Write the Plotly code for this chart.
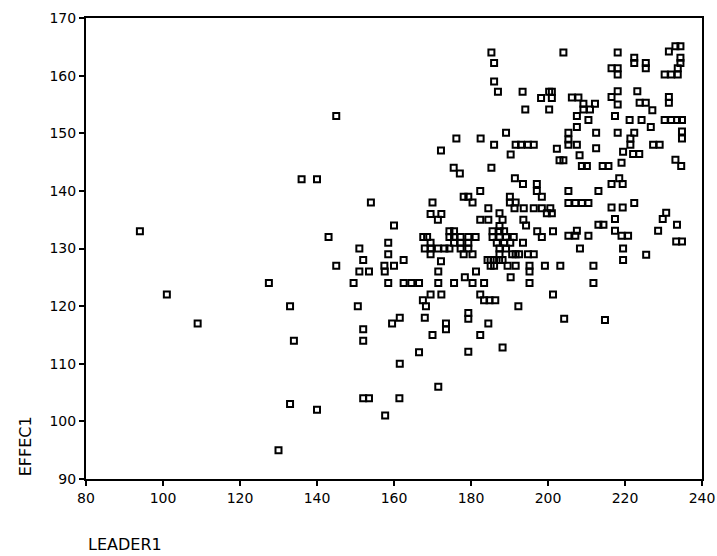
import plotly.graph_objects as go

# ---- data (LEADER1 on x, EFFEC1 on y) ----
leader1_a = [94, 101, 109, 127.5, 130, 133, 134, 133, 136, 140, 140, 143, 145, 145]
effec1_a = [133, 122, 117, 124, 95, 120, 114, 103, 142, 142, 102, 132, 127, 153]

leader1_b = [154, 160, 158.5, 151, 158.5, 152, 162.5, 157.5, 160, 151, 153.5, 157.6, 149.5, 158.5,
             162.5, 164.5, 166.5, 150.6, 161.5, 159.5, 152, 152, 166.5, 161.5, 152, 153.5, 161.4, 157.7]
effec1_b = [138, 134, 131, 130, 129, 128, 128, 127, 127, 126, 126, 126, 124, 124,
            124, 124, 124, 120, 118, 117, 116, 114, 112, 110, 104, 104, 104, 101]

leader1_c = [167.5, 168.3, 168, 170, 169.5, 172.3, 171.4, 167.6, 168.6, 169.5, 168, 169.5, 171.4,
             169.5, 171.5, 171.5, 169.5, 172.3, 170, 171.5]
effec1_c = [121, 120, 118, 138, 136, 136, 135, 132, 132, 131, 130, 130, 130,
            129, 126, 124, 122, 122, 115, 106]

leader1_d = [172.2, 175.5, 177.1, 185.3, 182.4, 178.1, 179.3, 180.4, 190.1, 190.1, 191.6, 191.4,
             193.5, 197.1, 197.1, 198.4]
effec1_d = [147, 144, 143, 144, 140, 139, 139, 138, 139, 138, 138, 142.2,
            141.2, 141.2, 140, 139]

leader1_e = [191.3, 193.7, 196.3, 198.4, 200.6, 199.7, 201, 184.5, 187.4, 182.4, 184.5, 188.2,
             193.6, 194.3, 187.4, 174.4, 175.6, 185.6, 187.4, 188.6, 197.2, 201.3]
effec1_e = [137, 137, 137, 137, 137, 136.1, 136.1, 137, 136.1, 135, 135, 135,
            135, 134, 133.9, 133, 133, 133, 133, 133, 133, 133]

leader1_f = [174.4, 175.6, 177.3, 179.3, 181.2, 185.6, 187.4, 189.1, 191.1, 198.4]
effec1_f = [132, 132, 132, 132, 132, 132, 132, 132, 132, 132]

leader1_g = [175.6, 177.3, 179.3, 186.7, 188.6, 190.2, 193.5]
effec1_g = [131, 131, 131, 131, 131, 131, 131]

leader1_h = [173.1, 174.4, 177.3, 179.3, 187.4, 189.1]
effec1_h = [130, 130, 130, 130, 130, 130]

leader1_i = [178.1, 180.4, 187.4, 190.7, 191.6, 192.5, 194.8, 196.3]
effec1_i = [129, 129, 129, 129, 129, 129, 129, 129]

leader1_j = [172.2, 184.3, 185.1, 186, 187.3, 185.1, 186, 188.2, 189.5, 191.6, 195.2, 195.2, 199.2]
effec1_j = [127.8, 128, 128, 128, 128, 127, 127, 128, 127, 127, 127, 126, 127]

leader1_k = [181.3, 178.4, 190.3, 175.6, 180.4, 183.4, 195.2, 182.4, 201.3, 183.4, 184.8, 186.3, 192.3]
effec1_k = [126, 125, 125, 124, 124, 124, 124, 122, 122, 121, 121, 121, 120]

leader1_l = [179.3, 179.3, 173.5, 173.5, 184.5, 204.2, 182.4, 179.3, 188.2]
effec1_l = [118.8, 117.8, 117, 116, 117, 117.8, 115, 112.1, 112.8]

leader1_m = [185.3, 186, 186, 187, 193.4, 204, 198.2, 200.3, 201, 201, 194.1, 200.3, 189.1, 176.2,
             182.5, 186, 191.6, 193, 194.8, 196.3, 190.3, 202.3]
effec1_m = [164, 162.2, 159, 157.2, 157.2, 164, 156.1, 157.2, 157.2, 156.1, 154.1, 154.1, 150.1, 149.1,
            149.1, 148, 148, 148, 148, 148, 146.3, 147.3]

leader1_n = [218.1, 222.4, 222.4, 225.4, 225.4, 231.4, 233.1, 234.4, 234.4, 234.4,
             216.5, 218.1, 218.1, 230.3, 232, 233.7, 233.7,
             218.1, 216.5, 218.1, 223.2, 225.4, 227.1, 223.8, 231.4, 231.4,
             206.2, 207.9, 209.2, 210.9, 212.2, 209.2,
             207.5, 210.5, 217.4, 221.2, 224.3, 226.7, 230.3, 232, 233.5, 234.8, 234.8, 234.8,
             207.5, 212.5, 218.1, 222.4, 221.4, 221.4, 227.3, 229,
             205.3, 205.3, 205.3, 207.5, 212.5, 208.2, 222.1, 223.7, 219.5,
             203, 204, 208.8, 210.1, 214.2, 215.7, 219.1, 233.1, 234.6]
effec1_n = [164, 163.1, 162.2, 162.2, 161.3, 164.2, 165.1, 165.1, 163.1, 162.2,
            161.3, 161.3, 160.2, 160.2, 160.2, 160.2, 161.3,
            157.3, 156.3, 155, 157.3, 155.3, 154, 155.3, 156.3, 155.3,
            156.2, 156.2, 155.1, 154.1, 155.1, 154.1,
            153, 152.3, 153, 152.3, 152.3, 151.1, 152.3, 152.3, 152.3, 152.3, 150.3, 149.1,
            151.1, 150.1, 150.1, 150.1, 149.1, 148, 148, 148,
            150.1, 148.9, 148, 148, 147.4, 146.2, 146.4, 146.4, 146.8,
            145.3, 145.3, 144.3, 144.3, 144.3, 144.3, 144.9, 145.4, 144.3]

leader1_o = [218.5, 216.5, 219.4, 205.3, 213.1, 205.3, 207.1, 208.8, 210.5, 216.5, 219.4, 222.4,
             213.1, 214.4, 217.4, 230.7, 229.8, 233.5, 205.3, 207.1, 207.5, 210.5, 217.4, 219.1,
             220.8, 228.6, 233.3, 234.8, 208.3, 219.5, 219.5, 225.5, 203.2, 211.8, 211.8, 214.8]
effec1_o = [142.2, 141.2, 141.2, 140, 140, 137.9, 137.9, 137.9, 137.9, 137.1, 137.1, 137.9,
            134.1, 134.1, 135.1, 136.2, 135.1, 134.1, 132.2, 132.2, 133.1, 132.2, 133.1, 132.2,
            132.2, 133.1, 131.2, 131.2, 130, 130, 128, 128.9, 127, 127, 124, 117.6]

x_ticks = [80, 100, 120, 140, 160, 180, 200, 220, 240]
y_ticks = [90, 100, 110, 120, 130, 140, 150, 160, 170]

leader1 = (leader1_a + leader1_b + leader1_c + leader1_d + leader1_e + leader1_f + leader1_g +
           leader1_h + leader1_i + leader1_j + leader1_k + leader1_l + leader1_m + leader1_n + leader1_o)
effec1 = (effec1_a + effec1_b + effec1_c + effec1_d + effec1_e + effec1_f + effec1_g +
          effec1_h + effec1_i + effec1_j + effec1_k + effec1_l + effec1_m + effec1_n + effec1_o)

fig = go.Figure()
fig.add_trace(go.Scatter(
    x=leader1, y=effec1, mode="markers",
    marker=dict(symbol="square-open", size=6, color="black", line=dict(width=2, color="black")),
    hoverinfo="x+y", showlegend=False,
))

font = dict(family="DejaVu Sans, Verdana, sans-serif", color="black")

axis_common = dict(
    showline=True, linecolor="black", linewidth=2, mirror=True,
    ticks="outside", ticklen=5, tickwidth=1.5, tickcolor="black",
    showgrid=False, zeroline=False,
    tickfont=dict(size=14, **font),
    ticklabeloverflow="allow",
    automargin=False,
)

fig.update_xaxes(range=[80, 240], tickvals=x_ticks, ticktext=[str(v) for v in x_ticks], **axis_common)
fig.update_yaxes(range=[90, 170], tickvals=y_ticks, ticktext=[str(v) for v in y_ticks], **axis_common)

fig.update_layout(
    width=717, height=556,
    margin=dict(l=86, r=15, t=18, b=77, autoexpand=False),
    paper_bgcolor="white", plot_bgcolor="white",
    font=font,
    annotations=[
        dict(text="LEADER1", xref="paper", yref="paper", x=0, y=-0.143,
             xanchor="left", yanchor="middle", showarrow=False,
             font=dict(size=16, **font)),
        dict(text="EFFEC1", xref="paper", yref="paper", x=-0.098, y=0.07,
             xanchor="center", yanchor="middle", textangle=-90, showarrow=False,
             font=dict(size=16, **font)),
    ],
)

fig.write_html("out.html",
               config={"displayModeBar": False},
               post_script="document.body.style.margin='0';document.body.style.padding='0';")
